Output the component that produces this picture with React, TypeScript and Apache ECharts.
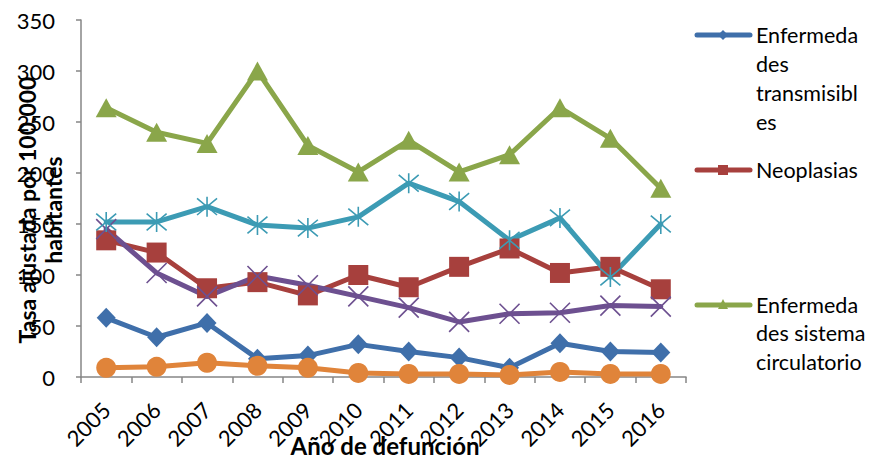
import React, { useEffect, useRef } from "react";
import * as echarts from "echarts";

const years = ["2005", "2006", "2007", "2008", "2009", "2010", "2011", "2012", "2013", "2014", "2015", "2016"];
const transmisibles = [58, 39, 53, 18, 21, 32, 25, 19, 9, 33, 25, 24];
const neoplasias = [134, 122, 87, 93, 80, 100, 88, 108, 126, 102, 108, 86];
const circulatorio = [264, 240, 229, 300, 227, 201, 232, 201, 218, 264, 234, 185];
const serie4 = [145, 102, 79, 99, 90, 79, 68, 54, 62, 63, 70, 69];
const serie5 = [152, 152, 167, 149, 146, 157, 190, 172, 134, 156, 98, 150];
const serie6 = [9, 10, 14, 11, 9, 4, 3, 3, 2, 5, 3, 3];
const yTicks = [0, 350, 50];

const FONT = "Lato";
const C_BLUE = "#3F6FAA";
const C_RED = "#A7403D";
const C_GREEN = "#8AA64A";
const C_PURPLE = "#6D5090";
const C_TEAL = "#3C9BB4";
const C_ORANGE = "#E0843A";

const X_PATH = "path://M0 0L10 10M10 0L0 10";
const AST_PATH = "path://M0 0L10 10M10 0L0 10M5 -1L5 11";

export default function App() {
  const ref = useRef<HTMLDivElement>(null);
  useEffect(() => {
    const chart = echarts.init(ref.current!, null, { renderer: "svg" });
    const mk = (name: string, data: number[], color: string, symbol: string, size: any, extra: any = {}) => ({
      name,
      type: "line",
      data,
      symbol,
      symbolSize: size,
      lineStyle: { color, width: 5, join: "round", cap: "round" },
      itemStyle: { color, ...extra },
      z: 2,
    });
    chart.setOption({
      animation: false,
      grid: { left: 81, top: 20, right: 184, bottom: 82, containLabel: false },
      xAxis: {
        type: "category",
        data: years,
        boundaryGap: true,
        axisLine: { lineStyle: { color: "#868686", width: 1.5 } },
        axisTick: { show: true, length: 6, interval: 0, lineStyle: { color: "#868686", width: 1.5 } },
        axisLabel: { rotate: 45, interval: 0, margin: 29, fontSize: 22, fontFamily: FONT, color: "#000" },
      },
      yAxis: {
        type: "value",
        min: yTicks[0],
        max: yTicks[1],
        interval: yTicks[2],
        splitLine: { show: false },
        axisLine: { show: true, lineStyle: { color: "#868686", width: 1.5 } },
        axisTick: { show: true, length: 5, lineStyle: { color: "#868686", width: 1.5 } },
        axisLabel: { margin: 26, fontSize: 22, fontFamily: FONT, color: "#000" },
      },
      graphic: [
        {
          type: "text",
          x: 40,
          y: 210,
          rotation: Math.PI / 2,
          style: {
            text: "Tasa ajustada por 100.000\nhabitantes",
            font: `bold 23px ${FONT}`,
            fill: "#000",
            align: "center",
            verticalAlign: "middle",
            lineHeight: 26,
          },
          z: 10,
        },
        {
          type: "text",
          x: 385,
          y: 445,
          style: {
            text: "Año de defunción",
            font: `bold 24px ${FONT}`,
            fill: "#000",
            align: "center",
            verticalAlign: "middle",
            lineHeight: 24,
          },
          z: 10,
        },
        // legend item 1
        { type: "line", shape: { x1: 697, y1: 35, x2: 750, y2: 35 }, style: { stroke: C_BLUE, lineWidth: 5, lineCap: "round" } },
        { type: "polygon", shape: { points: [[723, 30], [728, 35], [723, 40], [718, 35]] }, style: { fill: C_BLUE } },
        {
          type: "text", x: 756, y: 35 - 14.5,
          style: { text: "Enfermeda\ndes\ntransmisibl\nes", font: `21.5px ${FONT}`, fill: "#000", lineHeight: 29, verticalAlign: "top" },
        },
        // legend item 2
        { type: "line", shape: { x1: 697, y1: 170, x2: 750, y2: 170 }, style: { stroke: C_RED, lineWidth: 5, lineCap: "round" } },
        { type: "rect", shape: { x: 718, y: 165, width: 10, height: 10 }, style: { fill: C_RED } },
        {
          type: "text", x: 756, y: 170 - 14.5,
          style: { text: "Neoplasias", font: `21.5px ${FONT}`, fill: "#000", lineHeight: 29, verticalAlign: "top" },
        },
        // legend item 3
        { type: "line", shape: { x1: 697, y1: 305, x2: 750, y2: 305 }, style: { stroke: C_GREEN, lineWidth: 5, lineCap: "round" } },
        { type: "polygon", shape: { points: [[723, 299], [728, 309], [718, 309]] }, style: { fill: C_GREEN } },
        {
          type: "text", x: 756, y: 305 - 14.5,
          style: { text: "Enfermeda\ndes sistema\ncirculatorio", font: `21.5px ${FONT}`, fill: "#000", lineHeight: 28.5, verticalAlign: "top" },
        },
      ],
      series: [
        mk("Enfermedades transmisibles", transmisibles, C_BLUE, "diamond", [19, 20]),
        mk("Neoplasias", neoplasias, C_RED, "rect", 20),
        mk("Enfermedades sistema circulatorio", circulatorio, C_GREEN, "triangle", [21, 19]),
        mk("Serie 4", serie4, C_PURPLE, X_PATH, 20, { color: "none", borderColor: C_PURPLE, borderWidth: 1.6 }),
        mk("Serie 5", serie5, C_TEAL, AST_PATH, 20, { color: "none", borderColor: C_TEAL, borderWidth: 1.6 }),
        mk("Serie 6", serie6, C_ORANGE, "circle", 20),
      ],
    });
    return () => chart.dispose();
  }, []);
  return <div ref={ref} style={{ position: "fixed", left: 0, top: 0, width: 870, height: 459, background: "#fff" }} />;
}
